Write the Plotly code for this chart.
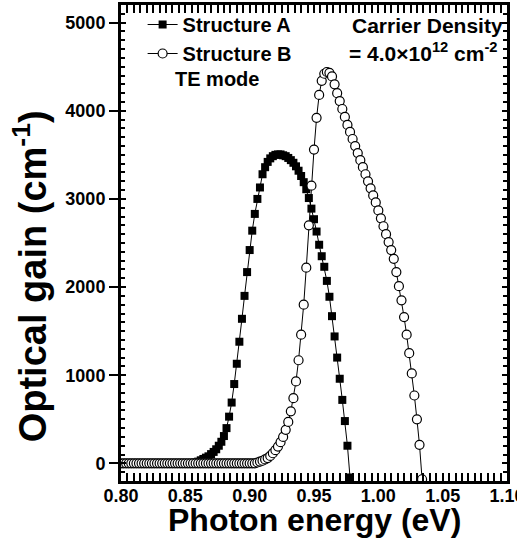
import numpy as np
import plotly.graph_objects as go

# Photon energy grid (eV), 2 meV steps
energy_a = np.round(np.arange(0.800, 0.9785, 0.002), 3)
energy_b = np.round(np.arange(0.800, 1.0345, 0.002), 3)

# Optical gain (cm^-1), Structure A
gain_a = [
    0, 0, 0, 0, 0, 0, 0, 0, 0, 0,            # 0.800-0.818
    0, 0, 0, 0, 0, 0, 0, 0, 0, 0,            # 0.820-0.838
    0, 0, 0, 0, 0, 0, 0, 0, 0,               # 0.840-0.856
    10, 20, 35, 50, 65, 80, 105, 130, 160, 200,       # 0.858-0.876
    245, 310, 400, 530, 690, 900, 1130, 1380, 1640, 1900,  # 0.878-0.896
    2170, 2420, 2640, 2830, 3000, 3130, 3280, 3360, 3420, 3460,  # 0.898-0.916
    3485, 3500, 3505, 3505, 3495, 3485, 3465, 3440, 3410, 3370,  # 0.918-0.936
    3320, 3260, 3190, 3110, 3010, 2890, 2770, 2630, 2480, 2350,  # 0.938-0.956
    2230, 2070, 1890, 1670, 1440, 1200, 960, 720, 480, 200,      # 0.958-0.976
    -160,                                                        # 0.978
]

# Optical gain (cm^-1), Structure B
gain_b = [
    0, 0, 0, 0, 0, 0, 0, 0, 0, 0,            # 0.800-0.818
    0, 0, 0, 0, 0, 0, 0, 0, 0, 0,            # 0.820-0.838
    0, 0, 0, 0, 0, 0, 0, 0, 0, 0,            # 0.840-0.858
    0, 0, 0, 0, 0, 0, 0, 0, 0, 0,            # 0.860-0.878
    0, 0, 0, 0, 0, 0, 0, 0, 0, 0,            # 0.880-0.898
    0, 0, 0,                                 # 0.900-0.904
    10, 20, 30, 45, 60, 85, 115, 150, 190, 240,             # 0.906-0.924
    300, 380, 470, 590, 740, 930, 1170, 1460, 1800, 2220,   # 0.926-0.944
    2700, 3150, 3560, 3920, 4180, 4340, 4420, 4440, 4430, 4390,  # 0.946-0.964
    4300, 4200, 4110, 4020, 3930, 3840, 3760, 3680, 3600, 3520,  # 0.966-0.984
    3440, 3360, 3280, 3200, 3120, 3040, 2960, 2870, 2780, 2690,  # 0.986-1.004
    2600, 2510, 2420, 2320, 2170, 2010, 1850, 1660, 1460, 1250,  # 1.006-1.024
    1020, 770, 500, 210, -180,                                   # 1.026-1.034
]

x_ticks = [0.80, 0.85, 0.90, 0.95, 1.00, 1.05, 1.10]
y_ticks = [0, 1000, 2000, 3000, 4000, 5000]
x_range = [0.80, 1.1000001]
y_range = [-200, 5200]

FONT = "Liberation Sans, Arial, sans-serif"

fig = go.Figure()

fig.add_trace(go.Scatter(
    x=energy_a, y=gain_a, mode="lines+markers", name="Structure A",
    line=dict(color="black", width=1),
    marker=dict(symbol="square", size=8, color="black", line=dict(width=0)),
))
fig.add_trace(go.Scatter(
    x=energy_b, y=gain_b, mode="lines+markers", name="Structure B",
    line=dict(color="black", width=1),
    marker=dict(symbol="circle", size=9, color="white",
                line=dict(color="black", width=1.2)),
))
# carrier for the inward-tick frame axis
fig.add_trace(go.Scatter(x=[], y=[], yaxis="y2", showlegend=False, hoverinfo="skip"))

fig.update_layout(
    width=517, height=543,
    margin=dict(l=121, r=10, t=5, b=62, autoexpand=False),
    paper_bgcolor="white", plot_bgcolor="white",
    font=dict(family=FONT, color="black", size=18, weight="bold"),
    showlegend=True,
    legend=dict(
        x=0.056, y=1.0, xanchor="left", yanchor="top",
        bgcolor="rgba(0,0,0,0)", borderwidth=0,
        font=dict(size=20, family=FONT, weight="bold"),
        tracegroupgap=0, itemwidth=30,
    ),
    xaxis=dict(
        range=x_range, tickvals=x_ticks, tickformat=".2f",
        ticks="inside", ticklen=8, tickwidth=2, tickcolor="black",
        minor=dict(dtick=0.005, ticks="inside", ticklen=4, tickwidth=1.5, tickcolor="black"),
        showline=True, linewidth=3, linecolor="black", mirror="allticks",
        showgrid=False, zeroline=False, ticklabelstandoff=-4,
        ticklabeloverflow="allow", automargin=False,
        tickfont=dict(size=18, family=FONT, weight="bold"),
    ),
    yaxis=dict(
        range=y_range, tickvals=y_ticks,
        ticks="outside", ticklen=9, tickwidth=2, tickcolor="black",
        showline=True, linewidth=3, linecolor="black",
        showgrid=False, zeroline=False, automargin=False,
        tickfont=dict(size=18, family=FONT, weight="bold"),
    ),
    yaxis2=dict(
        range=y_range, overlaying="y", side="right", anchor="x",
        tickvals=y_ticks, ticks="inside", ticklen=5, tickwidth=2, tickcolor="black",
        minor=dict(dtick=100, ticks="inside", ticklen=4, tickwidth=1.5, tickcolor="black"),
        showline=True, linewidth=3, linecolor="black", mirror="allticks",
        showticklabels=False, showgrid=False, zeroline=False, automargin=False,
    ),
    annotations=[
        dict(text="Photon energy (eV)", xref="paper", yref="paper",
             x=0.5, y=-0.081, xanchor="center", yanchor="middle",
             showarrow=False, font=dict(size=32, family=FONT, weight="bold")),
        dict(text="Optical gain (cm<sup>-1</sup>)", xref="paper", yref="paper",
             x=-0.2358, y=0.43, xanchor="center", yanchor="middle", textangle=-90,
             showarrow=False, font=dict(size=38, family=FONT, weight="bold")),
        dict(text="TE mode", xref="paper", yref="paper",
             x=(173 - 121) / 386, y=1 - (79 - 5) / 476, xanchor="left", yanchor="middle",
             showarrow=False, font=dict(size=20, family=FONT, weight="bold")),
        dict(text="Carrier Density", xref="paper", yref="paper",
             x=(350 - 121) / 386, y=1 - (26 - 5) / 476, xanchor="left", yanchor="middle",
             showarrow=False, font=dict(size=21, family=FONT, weight="bold")),
        dict(text="= 4.0×10<sup>12</sup> cm<sup>-2</sup>", xref="paper", yref="paper",
             x=(347 - 121) / 386, y=1 - (52 - 5) / 476, xanchor="left", yanchor="middle",
             showarrow=False, font=dict(size=21, family=FONT, weight="bold")),
    ],
)

fig.write_html("out.html")
